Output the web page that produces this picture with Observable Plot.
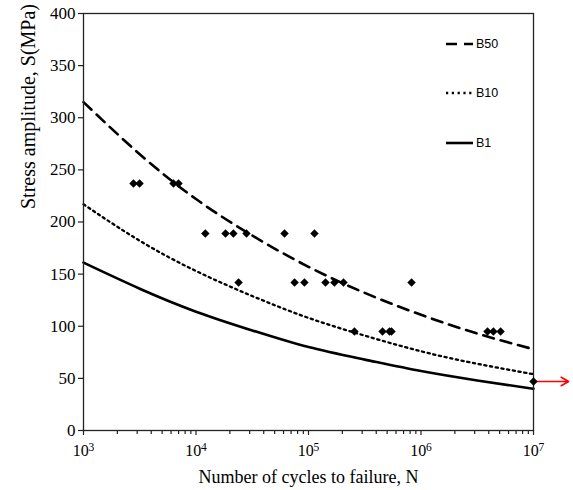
<!DOCTYPE html>
<html><head><meta charset="utf-8">
<script src="https://cdn.jsdelivr.net/npm/d3@7"></script>
<script src="https://cdn.jsdelivr.net/npm/@observablehq/plot@0.6"></script>
<style>body{margin:0;background:#fff;} svg{display:block;}</style>
</head><body><div id="chart"></div>
<script>
// Test data (cycles to failure N, stress amplitude S in MPa)
const cycles = [2780, 3150, 6310, 6990, 12100, 18300, 21500, 28100, 61200, 113000,
                23900, 75200, 92000, 141600, 170000, 204600, 824000,
                256000, 455000, 525000, 547000, 3900000, 4400000, 5100000, 10000000];
const stress = [237, 237, 237, 237, 189, 189, 189, 189, 189, 189,
                142, 142, 142, 142, 142, 142, 142,
                95, 95, 95, 95, 95, 95, 95, 47];
// P-S-N curves read at half-decade positions
const curveN = [1000, 3162, 10000, 31623, 100000, 316228, 1000000, 3162278, 10000000];
const b50 = [315, 265, 222, 187, 157, 132, 111, 93, 78];
const b10 = [217, 182, 153, 129, 108, 91, 76, 64, 54];
const b1  = [161, 136, 114, 96, 80, 68, 57, 48, 40];
// Run-out point
const runoutN = [10000000];
const runoutS = [47];
const xTicks = [1e3, 1e4, 1e5, 1e6, 1e7];
const yTicks = [0, 50, 100, 150, 200, 250, 300, 350, 400];
const seriesNames = ["B50", "B10", "B1"];
const xLabel = "Number of cycles to failure, N";
const yLabel = "Stress amplitude, S(MPa)";

const points = cycles.map((N, i) => ({N, S: stress[i]}));
const mk = arr => curveN.map((N, i) => ({N, S: arr[i]}));
const runout = runoutN.map((N, i) => ({N, S: runoutS[i]}));
const minor = [];
for (let e = 3; e < 7; e++) for (let k = 2; k <= 9; k++) minor.push(k * 10 ** e);

const serif = "'Liberation Serif', 'Times New Roman', serif";
const styles = {B50: {dash: "11,7"}, B10: {dash: "2.2,3.6"}, B1: {dash: null}};

const plot = Plot.plot({
  width: 573, height: 490,
  marginLeft: 83, marginRight: 40, marginTop: 13, marginBottom: 60,
  style: {fontFamily: serif, fontSize: "16px", color: "#000", background: "#fff"},
  x: {type: "log", domain: [1e3, 1e7]},
  y: {domain: [0, 400]},
  marks: [
    Plot.axisY({ticks: yTicks, tickSize: 5, tickPadding: 3, fontSize: 17, label: null, stroke: "#222", strokeWidth: 1.2}),
    Plot.axisX({ticks: minor, tickSize: 4, tickFormat: () => "", label: null, stroke: "#222", strokeWidth: 1.2}),
    Plot.axisX({ticks: xTicks, tickSize: 5, tickPadding: 9, fontSize: 16, label: null, stroke: "#222", strokeWidth: 1.2,
      tickFormat: d => String(Math.round(Math.log10(d)))}),
    Plot.line(mk(b50), {x: "N", y: "S", stroke: "#000", strokeWidth: 2.6, strokeDasharray: styles.B50.dash, curve: "natural"}),
    Plot.line(mk(b10), {x: "N", y: "S", stroke: "#000", strokeWidth: 2.3, strokeDasharray: styles.B10.dash, curve: "natural"}),
    Plot.line(mk(b1), {x: "N", y: "S", stroke: "#000", strokeWidth: 2.6, curve: "natural"}),
    Plot.frame({stroke: "#222", strokeWidth: 1.3}),
    Plot.arrow(runout, {x1: "N", y1: "S", x2: d => d.N * 2.05, y2: "S", stroke: "red", strokeWidth: 1.6, headLength: 8}),
    Plot.dot(points, {x: "N", y: "S", symbol: "diamond2", r: 3.8, fill: "#000", stroke: "none"}),
    Plot.text([xLabel], {frameAnchor: "bottom", dy: 47, fontSize: 18, lineAnchor: "middle", text: d => d}),
    Plot.text([yLabel], {frameAnchor: "left", dx: -55, dy: -13, rotate: -90, fontSize: 20, lineAnchor: "middle", text: d => d})
  ]
});

// superscript exponents on log tick labels
d3.select(plot).selectAll('g[aria-label="x-axis tick label"] text').each(function() {
  const e = this.textContent;
  if (!e) return;
  this.textContent = "10";
  d3.select(this).append("tspan").attr("dy", "-0.45em").attr("font-size", "0.72em").text(e);
});

// legend inside the plot area (top right)
const legendRows = [44, 93, 143];
const lg = d3.select(plot).append("g").attr("aria-label", "legend").attr("text-anchor", "start");
seriesNames.forEach((name, i) => {
  const y = legendRows[i];
  lg.append("line").attr("x1", 446).attr("x2", 473).attr("y1", y).attr("y2", y)
    .attr("stroke", "#000").attr("stroke-width", name === "B10" ? 2.3 : 2.6)
    .attr("stroke-dasharray", styles[name].dash);
  lg.append("text").attr("x", 476).attr("y", y).attr("dy", "0.35em")
    .attr("text-anchor", "start")
    .attr("font-family", "'Liberation Sans', Arial, sans-serif").attr("font-size", 12.5)
    .attr("fill", "#000").text(name);
});

document.getElementById("chart").appendChild(plot);
</script>
</body></html>
